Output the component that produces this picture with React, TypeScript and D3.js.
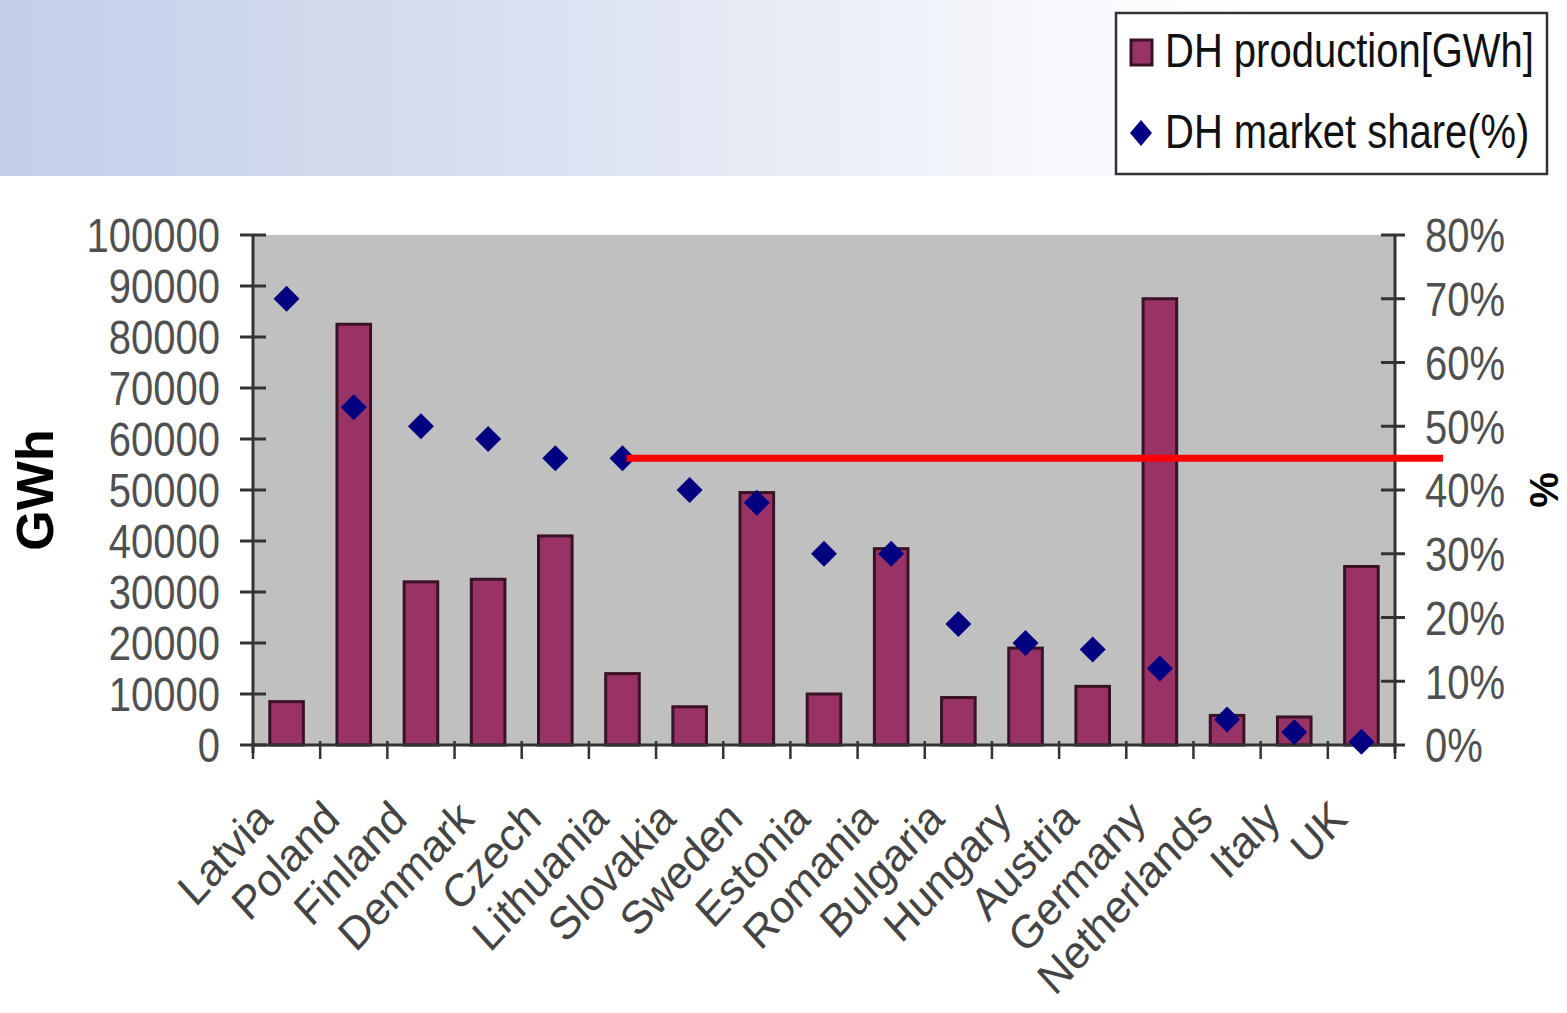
import React from "react";
import * as d3 from "d3";

const categories = ["Latvia","Poland","Finland","Denmark","Czech","Lithuania","Slovakia","Sweden","Estonia","Romania","Bulgaria","Hungary","Austria","Germany","Netherlands","Italy","UK"];
const production = [8500, 82500, 32000, 32500, 41000, 14000, 7500, 49500, 10000, 38500, 9300, 19000, 11500, 87500, 5800, 5500, 35000];
const marketShare = [70, 53, 50, 48, 45, 45, 40, 38, 30, 30, 19, 16, 15, 12, 4, 2, 0.5];
const leftTicks = [0, 10000, 20000, 30000, 40000, 50000, 60000, 70000, 80000, 90000, 100000];
const rightTicks = [0, 10, 20, 30, 40, 50, 60, 70, 80];
const legendLabels = ["DH production[GWh]", "DH market share(%)"];
const thresholdValue = 45;
const thresholdStart = "Lithuania";

const W = 1567, H = 1013;
const plot = { left: 253, right: 1395, top: 235, bottom: 745 };
const FONT = "Arial, 'Liberation Sans', Helvetica, sans-serif";
const BAR_FILL = "#993366";
const BAR_STROKE = "#3a1226";
const NAVY = "#000080";
const AXIS = "#333333";

export default function App() {
  const x = d3.scaleBand<string>().domain(categories).range([plot.left, plot.right]).paddingInner(0.5).paddingOuter(0.25);
  const yL = d3.scaleLinear().domain([0, 100000]).range([plot.bottom, plot.top]);
  const yR = d3.scaleLinear().domain([0, 80]).range([plot.bottom, plot.top]);
  const step = x.step();
  const boundaries = d3.range(categories.length + 1).map((i) => plot.left + i * step);
  const diamond = (cx: number, cy: number, hw: number, hh: number) =>
    `M${cx},${cy - hh}L${cx + hw},${cy}L${cx},${cy + hh}L${cx - hw},${cy}Z`;
  const cx = (c: string) => (x(c) as number) + x.bandwidth() / 2;

  return (
    <div style={{ position: "fixed", left: 0, top: 0 }}>
      <svg width={W} height={H} viewBox={`0 0 ${W} ${H}`} style={{ display: "block", fontFamily: FONT }}>
        <defs>
          <linearGradient id="band" x1="0" x2="1" y1="0" y2="0">
            <stop offset="0" stopColor="#c3cfe8" />
            <stop offset="0.3" stopColor="#d7deef" />
            <stop offset="0.5" stopColor="#e8ecf6" />
            <stop offset="0.68" stopColor="#f8f9fd" />
            <stop offset="0.8" stopColor="#ffffff" />
          </linearGradient>
        </defs>
        <rect x={0} y={0} width={W} height={H} fill="#ffffff" />
        <rect x={0} y={0} width={W} height={176} fill="url(#band)" />

        {/* plot area */}
        <rect x={plot.left} y={plot.top} width={plot.right - plot.left} height={plot.bottom - plot.top} fill="#c0c0c0" />

        {/* bars */}
        {categories.map((c, i) => (
          <rect key={c} x={x(c)} y={yL(production[i])} width={x.bandwidth()} height={plot.bottom - yL(production[i])}
            fill={BAR_FILL} stroke={BAR_STROKE} strokeWidth={3} />
        ))}

        {/* axes */}
        <line x1={plot.left} x2={plot.left} y1={plot.top} y2={plot.bottom + 8} stroke={AXIS} strokeWidth={3} />
        <line x1={plot.right} x2={plot.right} y1={plot.top} y2={plot.bottom + 8} stroke={AXIS} strokeWidth={3} />
        <line x1={plot.left} x2={plot.right} y1={plot.bottom} y2={plot.bottom} stroke={AXIS} strokeWidth={3} />
        {leftTicks.map((t) => (
          <line key={"lt" + t} x1={plot.left - 13} x2={plot.left + 13} y1={yL(t)} y2={yL(t)} stroke={AXIS} strokeWidth={3} />
        ))}
        {rightTicks.map((t) => (
          <line key={"rt" + t} x1={plot.right - 14} x2={plot.right + 10} y1={yR(t)} y2={yR(t)} stroke={AXIS} strokeWidth={3} />
        ))}
        {boundaries.map((b, i) => (
          <line key={"bt" + i} x1={b} x2={b} y1={plot.bottom - 4} y2={plot.bottom + 14} stroke={AXIS} strokeWidth={2.5} />
        ))}

        {/* market share diamonds */}
        {categories.map((c, i) => (
          <path key={"d" + c} d={diamond(cx(c), yR(marketShare[i]), 13, 13)} fill={NAVY} />
        ))}

        {/* threshold line */}
        <line x1={cx(thresholdStart) + 4} x2={plot.right + 48} y1={yR(thresholdValue)} y2={yR(thresholdValue)} stroke="#ff0000" strokeWidth={7} />

        {/* left tick labels */}
        {leftTicks.map((t) => (
          <text key={"ll" + t} transform={`translate(${plot.left - 33},${yL(t)}) scale(1,1.2)`} textAnchor="end" dy="0.36em"
            fontSize={40} fill="#505050">{t}</text>
        ))}
        {/* right tick labels */}
        {rightTicks.map((t) => (
          <text key={"rl" + t} transform={`translate(${plot.right + 30},${yR(t)}) scale(1,1.2)`} textAnchor="start" dy="0.36em"
            fontSize={40} fill="#505050">{t + "%"}</text>
        ))}

        {/* axis titles */}
        <text transform={`translate(53,${(plot.top + plot.bottom) / 2}) rotate(-90)`} textAnchor="middle" fontSize={52} fontWeight="bold" fill="#000">GWh</text>
        <text transform={`translate(1558,${(plot.top + plot.bottom) / 2}) rotate(-90)`} textAnchor="middle" fontSize={40} fontWeight="bold" fill="#000">%</text>

        {/* category labels */}
        {categories.map((c) => (
          <text key={"cl" + c} transform={`translate(${cx(c) - 12},${plot.bottom + 76}) scale(1,1.1) rotate(-45)`} textAnchor="end"
            fontSize={42} fill="#444444">{c}</text>
        ))}

        {/* legend */}
        <rect x={1116} y={13} width={431} height={161} fill="#ffffff" stroke="#333333" strokeWidth={2.5} />
        <rect x={1131} y={40} width={21} height={25} fill={BAR_FILL} stroke={BAR_STROKE} strokeWidth={3} />
        <text transform="translate(1165,67) scale(1,1.2)" fontSize={40} fill="#111111">{legendLabels[0]}</text>
        <path d={diamond(1141, 133, 11, 13)} fill={NAVY} />
        <text transform="translate(1165,148) scale(1,1.2)" fontSize={40} fill="#111111">{legendLabels[1]}</text>
      </svg>
    </div>
  );
}
